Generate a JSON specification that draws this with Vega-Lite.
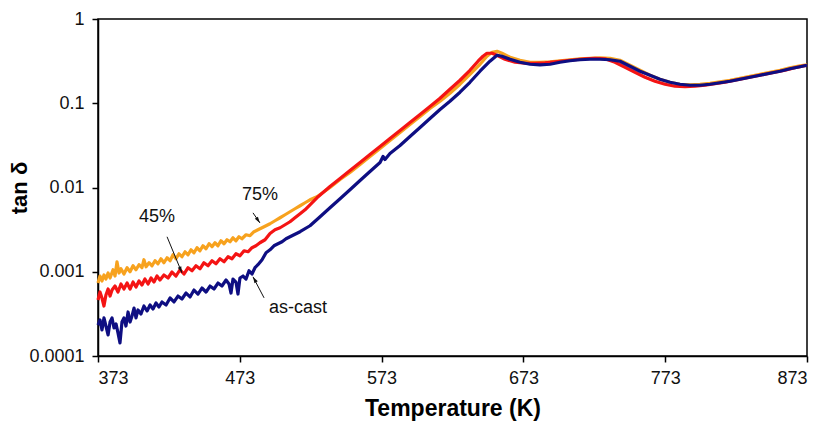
{
  "$schema": "https://vega.github.io/schema/vega-lite/v6.json",
  "width": 709,
  "height": 337,
  "autosize": "none",
  "padding": {"left": 98, "top": 19, "right": 20, "bottom": 76},
  "background": "white",
  "config": {
    "font": "Liberation Sans",
    "view": {"stroke": "#000000", "strokeWidth": 1.5},
    "axis": {
      "grid": false,
      "domainColor": "#000000",
      "domainWidth": 1.5,
      "tickColor": "#000000",
      "tickWidth": 1.5,
      "tickSize": 6,
      "labelFont": "Liberation Sans",
      "labelFontSize": 18,
      "labelColor": "#111111",
      "titleFont": "Liberation Sans",
      "titleColor": "#000000"
    }
  },
  "datasets": {
    "curves": [
      {"s":"as-cast","T":373,"v":0.000233},{"s":"as-cast","T":374.4,"v":0.000268},{"s":"as-cast","T":375.8,"v":0.000204},{"s":"as-cast","T":377.2,"v":0.000283},{"s":"as-cast","T":378.6,"v":0.000227},{"s":"as-cast","T":380.1,"v":0.000178},{"s":"as-cast","T":381.5,"v":0.000253},{"s":"as-cast","T":382.9,"v":0.000283},{"s":"as-cast","T":384.3,"v":0.000215},{"s":"as-cast","T":385.7,"v":0.00024},{"s":"as-cast","T":387.1,"v":0.000188},{"s":"as-cast","T":388.5,"v":0.000143},{"s":"as-cast","T":389.9,"v":0.000253},{"s":"as-cast","T":391.3,"v":0.000283},{"s":"as-cast","T":392.7,"v":0.000227},{"s":"as-cast","T":394.2,"v":0.000333},{"s":"as-cast","T":395.6,"v":0.000253},{"s":"as-cast","T":397.0,"v":0.000299},{"s":"as-cast","T":398.4,"v":0.000371},{"s":"as-cast","T":399.8,"v":0.000283},{"s":"as-cast","T":401.2,"v":0.000352},{"s":"as-cast","T":403.3,"v":0.000315},{"s":"as-cast","T":405.4,"v":0.000392},{"s":"as-cast","T":407.6,"v":0.000342},{"s":"as-cast","T":409.7,"v":0.000403},{"s":"as-cast","T":411.8,"v":0.000361},{"s":"as-cast","T":413.9,"v":0.000426},{"s":"as-cast","T":416.0,"v":0.000382},{"s":"as-cast","T":418.1,"v":0.000438},{"s":"as-cast","T":421.0,"v":0.000403},{"s":"as-cast","T":423.8,"v":0.000488},{"s":"as-cast","T":426.6,"v":0.000438},{"s":"as-cast","T":429.4,"v":0.000515},{"s":"as-cast","T":432.2,"v":0.000475},{"s":"as-cast","T":435.1,"v":0.000559},{"s":"as-cast","T":437.9,"v":0.000502},{"s":"as-cast","T":440.7,"v":0.000607},{"s":"as-cast","T":443.5,"v":0.000544},{"s":"as-cast","T":446.3,"v":0.000641},{"s":"as-cast","T":449.2,"v":0.000575},{"s":"as-cast","T":452.0,"v":0.000677},{"s":"as-cast","T":454.8,"v":0.000624},{"s":"as-cast","T":457.6,"v":0.000735},{"s":"as-cast","T":460.4,"v":0.000677},{"s":"as-cast","T":463.3,"v":0.000798},{"s":"as-cast","T":465.4,"v":0.000715},{"s":"as-cast","T":466.8,"v":0.000559},{"s":"as-cast","T":468.2,"v":0.00082},{"s":"as-cast","T":470.3,"v":0.000755},{"s":"as-cast","T":471.7,"v":0.000544},{"s":"as-cast","T":473.1,"v":0.000843},{"s":"as-cast","T":475.3,"v":0.00089},{"s":"as-cast","T":477.4,"v":0.00082},{"s":"as-cast","T":479.5,"v":0.001028},{"s":"as-cast","T":481.6,"v":0.00094},{"s":"as-cast","T":483.7,"v":0.001116},{"s":"as-cast","T":485.8,"v":0.001211},{"s":"as-cast","T":488.7,"v":0.001388},{"s":"as-cast","T":491.5,"v":0.001681},{"s":"as-cast","T":494.3,"v":0.001824},{"s":"as-cast","T":497.1,"v":0.002035},{"s":"as-cast","T":499.9,"v":0.00215},{"s":"as-cast","T":502.8,"v":0.00227},{"s":"as-cast","T":505.6,"v":0.002464},{"s":"as-cast","T":509.8,"v":0.002675},{"s":"as-cast","T":515.5,"v":0.002985},{"s":"as-cast","T":522.5,"v":0.003516},{"s":"as-cast","T":529.6,"v":0.004496},{"s":"as-cast","T":536.6,"v":0.005749},{"s":"as-cast","T":543.7,"v":0.007351},{"s":"as-cast","T":550.7,"v":0.009402},{"s":"as-cast","T":557.8,"v":0.01211},{"s":"as-cast","T":564.8,"v":0.01548},{"s":"as-cast","T":571.9,"v":0.01981},{"s":"as-cast","T":574.0,"v":0.02333},{"s":"as-cast","T":575.4,"v":0.0215},{"s":"as-cast","T":578.9,"v":0.02532},{"s":"as-cast","T":586.0,"v":0.03152},{"s":"as-cast","T":593.0,"v":0.04031},{"s":"as-cast","T":600.1,"v":0.05154},{"s":"as-cast","T":607.1,"v":0.06591},{"s":"as-cast","T":614.2,"v":0.08428},{"s":"as-cast","T":621.2,"v":0.1056},{"s":"as-cast","T":628.3,"v":0.1351},{"s":"as-cast","T":635.3,"v":0.1775},{"s":"as-cast","T":642.4,"v":0.2398},{"s":"as-cast","T":649.4,"v":0.3152},{"s":"as-cast","T":654.4,"v":0.3713},{"s":"as-cast","T":657.9,"v":0.3613},{"s":"as-cast","T":663.6,"v":0.3329},{"s":"as-cast","T":670.6,"v":0.3067},{"s":"as-cast","T":677.7,"v":0.2903},{"s":"as-cast","T":684.7,"v":0.286},{"s":"as-cast","T":691.8,"v":0.2903},{"s":"as-cast","T":698.8,"v":0.3067},{"s":"as-cast","T":705.9,"v":0.3195},{"s":"as-cast","T":712.9,"v":0.3284},{"s":"as-cast","T":720.0,"v":0.3329},{"s":"as-cast","T":727.0,"v":0.3329},{"s":"as-cast","T":734.1,"v":0.3284},{"s":"as-cast","T":741.1,"v":0.3152},{"s":"as-cast","T":748.2,"v":0.2749},{"s":"as-cast","T":755.2,"v":0.2398},{"s":"as-cast","T":762.3,"v":0.215},{"s":"as-cast","T":769.3,"v":0.1927},{"s":"as-cast","T":776.4,"v":0.1775},{"s":"as-cast","T":783.4,"v":0.1681},{"s":"as-cast","T":790.5,"v":0.1635},{"s":"as-cast","T":797.5,"v":0.1635},{"s":"as-cast","T":804.6,"v":0.1681},{"s":"as-cast","T":811.7,"v":0.1751},{"s":"as-cast","T":818.7,"v":0.1824},{"s":"as-cast","T":825.8,"v":0.1927},{"s":"as-cast","T":832.8,"v":0.2035},{"s":"as-cast","T":839.9,"v":0.215},{"s":"as-cast","T":846.9,"v":0.227},{"s":"as-cast","T":854.0,"v":0.2398},{"s":"as-cast","T":861.0,"v":0.2567},{"s":"as-cast","T":868.1,"v":0.2712},{"s":"as-cast","T":873,"v":0.2825},

      {"s":"45%","T":373,"v":0.000462},{"s":"45%","T":374.4,"v":0.000575},{"s":"45%","T":375.8,"v":0.000488},{"s":"45%","T":377.2,"v":0.000392},{"s":"45%","T":378.6,"v":0.00053},{"s":"45%","T":380.1,"v":0.000624},{"s":"45%","T":381.5,"v":0.000515},{"s":"45%","T":382.9,"v":0.000607},{"s":"45%","T":385.0,"v":0.000677},{"s":"45%","T":387.1,"v":0.000575},{"s":"45%","T":389.2,"v":0.000715},{"s":"45%","T":391.3,"v":0.000624},{"s":"45%","T":393.5,"v":0.000735},{"s":"45%","T":395.6,"v":0.000624},{"s":"45%","T":397.7,"v":0.000755},{"s":"45%","T":399.8,"v":0.000659},{"s":"45%","T":401.9,"v":0.000777},{"s":"45%","T":404.0,"v":0.000696},{"s":"45%","T":406.1,"v":0.00082},{"s":"45%","T":408.3,"v":0.000715},{"s":"45%","T":410.4,"v":0.000843},{"s":"45%","T":412.5,"v":0.000755},{"s":"45%","T":414.6,"v":0.00089},{"s":"45%","T":416.7,"v":0.000798},{"s":"45%","T":419.5,"v":0.000915},{"s":"45%","T":422.4,"v":0.000843},{"s":"45%","T":425.2,"v":0.000993},{"s":"45%","T":428.0,"v":0.00089},{"s":"45%","T":430.8,"v":0.001056},{"s":"45%","T":433.6,"v":0.00094},{"s":"45%","T":436.5,"v":0.001116},{"s":"45%","T":439.3,"v":0.001028},{"s":"45%","T":442.1,"v":0.001178},{"s":"45%","T":444.9,"v":0.001085},{"s":"45%","T":447.7,"v":0.001279},{"s":"45%","T":450.6,"v":0.001178},{"s":"45%","T":453.4,"v":0.001351},{"s":"45%","T":456.2,"v":0.001244},{"s":"45%","T":459.0,"v":0.001426},{"s":"45%","T":461.9,"v":0.001314},{"s":"45%","T":464.7,"v":0.001507},{"s":"45%","T":467.5,"v":0.001426},{"s":"45%","T":470.3,"v":0.001635},{"s":"45%","T":473.1,"v":0.001548},{"s":"45%","T":476.0,"v":0.001775},{"s":"45%","T":478.8,"v":0.001727},{"s":"45%","T":481.6,"v":0.001927},{"s":"45%","T":484.4,"v":0.002035},{"s":"45%","T":487.2,"v":0.002209},{"s":"45%","T":490.8,"v":0.002398},{"s":"45%","T":494.3,"v":0.00285},{"s":"45%","T":497.8,"v":0.003152},{"s":"45%","T":501.4,"v":0.003329},{"s":"45%","T":504.9,"v":0.003613},{"s":"45%","T":508.4,"v":0.003922},{"s":"45%","T":511.9,"v":0.004375},{"s":"45%","T":515.5,"v":0.00488},{"s":"45%","T":519.0,"v":0.005443},{"s":"45%","T":522.5,"v":0.00624},{"s":"45%","T":527.4,"v":0.007554},{"s":"45%","T":536.6,"v":0.01028},{"s":"45%","T":543.7,"v":0.01279},{"s":"45%","T":550.7,"v":0.01591},{"s":"45%","T":557.8,"v":0.01981},{"s":"45%","T":564.8,"v":0.02464},{"s":"45%","T":571.9,"v":0.03067},{"s":"45%","T":578.9,"v":0.03816},{"s":"45%","T":586.0,"v":0.04748},{"s":"45%","T":593.0,"v":0.05909},{"s":"45%","T":600.1,"v":0.07351},{"s":"45%","T":607.1,"v":0.09148},{"s":"45%","T":614.2,"v":0.1146},{"s":"45%","T":621.2,"v":0.1466},{"s":"45%","T":628.3,"v":0.1875},{"s":"45%","T":635.3,"v":0.2464},{"s":"45%","T":641.0,"v":0.3152},{"s":"45%","T":644.5,"v":0.3613},{"s":"45%","T":647.3,"v":0.3922},{"s":"45%","T":650.9,"v":0.3922},{"s":"45%","T":654.4,"v":0.3713},{"s":"45%","T":660.0,"v":0.3329},{"s":"45%","T":667.1,"v":0.3067},{"s":"45%","T":674.1,"v":0.2985},{"s":"45%","T":681.2,"v":0.2985},{"s":"45%","T":688.2,"v":0.3026},{"s":"45%","T":695.3,"v":0.311},{"s":"45%","T":702.3,"v":0.3195},{"s":"45%","T":709.4,"v":0.3284},{"s":"45%","T":716.4,"v":0.3375},{"s":"45%","T":723.5,"v":0.3421},{"s":"45%","T":730.5,"v":0.3375},{"s":"45%","T":737.6,"v":0.3067},{"s":"45%","T":744.7,"v":0.2675},{"s":"45%","T":751.7,"v":0.2333},{"s":"45%","T":758.8,"v":0.2035},{"s":"45%","T":765.8,"v":0.1824},{"s":"45%","T":772.9,"v":0.1681},{"s":"45%","T":779.9,"v":0.1591},{"s":"45%","T":787.0,"v":0.157},{"s":"45%","T":794.0,"v":0.1591},{"s":"45%","T":801.1,"v":0.1635},{"s":"45%","T":808.1,"v":0.1704},{"s":"45%","T":815.2,"v":0.1775},{"s":"45%","T":822.2,"v":0.1875},{"s":"45%","T":829.3,"v":0.1981},{"s":"45%","T":836.3,"v":0.2092},{"s":"45%","T":843.4,"v":0.2209},{"s":"45%","T":850.4,"v":0.2333},{"s":"45%","T":857.5,"v":0.2464},{"s":"45%","T":864.5,"v":0.2639},{"s":"45%","T":873,"v":0.2825},

      {"s":"75%","T":373,"v":0.000735},{"s":"75%","T":374.4,"v":0.00089},{"s":"75%","T":375.8,"v":0.000777},{"s":"75%","T":377.2,"v":0.000915},{"s":"75%","T":378.6,"v":0.00082},{"s":"75%","T":380.1,"v":0.000966},{"s":"75%","T":381.5,"v":0.000843},{"s":"75%","T":383.6,"v":0.001056},{"s":"75%","T":385.0,"v":0.00089},{"s":"75%","T":386.4,"v":0.001314},{"s":"75%","T":387.8,"v":0.000966},{"s":"75%","T":389.2,"v":0.001085},{"s":"75%","T":391.3,"v":0.00094},{"s":"75%","T":393.5,"v":0.001116},{"s":"75%","T":395.6,"v":0.001},{"s":"75%","T":397.7,"v":0.001178},{"s":"75%","T":399.8,"v":0.001056},{"s":"75%","T":401.9,"v":0.001211},{"s":"75%","T":404.0,"v":0.001116},{"s":"75%","T":405.4,"v":0.001388},{"s":"75%","T":406.9,"v":0.001146},{"s":"75%","T":409.0,"v":0.001279},{"s":"75%","T":411.1,"v":0.001178},{"s":"75%","T":413.2,"v":0.001351},{"s":"75%","T":415.3,"v":0.001244},{"s":"75%","T":417.4,"v":0.001426},{"s":"75%","T":419.5,"v":0.001279},{"s":"75%","T":421.7,"v":0.001466},{"s":"75%","T":423.8,"v":0.001351},{"s":"75%","T":425.9,"v":0.001591},{"s":"75%","T":428.0,"v":0.001426},{"s":"75%","T":430.1,"v":0.001635},{"s":"75%","T":432.2,"v":0.001507},{"s":"75%","T":434.4,"v":0.001727},{"s":"75%","T":436.5,"v":0.001591},{"s":"75%","T":438.6,"v":0.001824},{"s":"75%","T":440.7,"v":0.001681},{"s":"75%","T":442.8,"v":0.001927},{"s":"75%","T":444.9,"v":0.001775},{"s":"75%","T":447.0,"v":0.002035},{"s":"75%","T":449.2,"v":0.001875},{"s":"75%","T":451.3,"v":0.00215},{"s":"75%","T":453.4,"v":0.001981},{"s":"75%","T":455.5,"v":0.002209},{"s":"75%","T":457.6,"v":0.002035},{"s":"75%","T":459.7,"v":0.002333},{"s":"75%","T":461.9,"v":0.00215},{"s":"75%","T":464.0,"v":0.002398},{"s":"75%","T":466.1,"v":0.00227},{"s":"75%","T":468.2,"v":0.002532},{"s":"75%","T":470.3,"v":0.002333},{"s":"75%","T":472.4,"v":0.002603},{"s":"75%","T":474.5,"v":0.002464},{"s":"75%","T":477.4,"v":0.002749},{"s":"75%","T":480.2,"v":0.002675},{"s":"75%","T":483.0,"v":0.002985},{"s":"75%","T":485.8,"v":0.003152},{"s":"75%","T":488.7,"v":0.003329},{"s":"75%","T":491.5,"v":0.003516},{"s":"75%","T":494.3,"v":0.003713},{"s":"75%","T":497.8,"v":0.004031},{"s":"75%","T":501.4,"v":0.004375},{"s":"75%","T":504.9,"v":0.004748},{"s":"75%","T":508.4,"v":0.005154},{"s":"75%","T":511.9,"v":0.005594},{"s":"75%","T":515.5,"v":0.006072},{"s":"75%","T":519.0,"v":0.006591},{"s":"75%","T":522.5,"v":0.007153},{"s":"75%","T":527.4,"v":0.007765},{"s":"75%","T":536.6,"v":0.01},{"s":"75%","T":543.7,"v":0.01244},{"s":"75%","T":550.7,"v":0.01507},{"s":"75%","T":557.8,"v":0.01875},{"s":"75%","T":564.8,"v":0.02333},{"s":"75%","T":571.9,"v":0.02903},{"s":"75%","T":578.9,"v":0.03613},{"s":"75%","T":586.0,"v":0.04496},{"s":"75%","T":593.0,"v":0.05594},{"s":"75%","T":600.1,"v":0.0696},{"s":"75%","T":607.1,"v":0.08661},{"s":"75%","T":614.2,"v":0.1056},{"s":"75%","T":621.2,"v":0.1314},{"s":"75%","T":628.3,"v":0.1681},{"s":"75%","T":635.3,"v":0.2209},{"s":"75%","T":642.4,"v":0.2903},{"s":"75%","T":647.3,"v":0.3613},{"s":"75%","T":650.9,"v":0.4031},{"s":"75%","T":654.4,"v":0.4142},{"s":"75%","T":657.9,"v":0.3922},{"s":"75%","T":663.6,"v":0.3516},{"s":"75%","T":670.6,"v":0.3239},{"s":"75%","T":677.7,"v":0.3067},{"s":"75%","T":684.7,"v":0.3067},{"s":"75%","T":691.8,"v":0.311},{"s":"75%","T":698.8,"v":0.3195},{"s":"75%","T":705.9,"v":0.3284},{"s":"75%","T":712.9,"v":0.3375},{"s":"75%","T":720.0,"v":0.3421},{"s":"75%","T":727.0,"v":0.3468},{"s":"75%","T":734.1,"v":0.3421},{"s":"75%","T":741.1,"v":0.3239},{"s":"75%","T":748.2,"v":0.2825},{"s":"75%","T":755.2,"v":0.2464},{"s":"75%","T":762.3,"v":0.215},{"s":"75%","T":769.3,"v":0.1927},{"s":"75%","T":776.4,"v":0.1775},{"s":"75%","T":783.4,"v":0.1681},{"s":"75%","T":790.5,"v":0.1658},{"s":"75%","T":797.5,"v":0.1681},{"s":"75%","T":804.6,"v":0.1727},{"s":"75%","T":811.7,"v":0.18},{"s":"75%","T":818.7,"v":0.1875},{"s":"75%","T":825.8,"v":0.1981},{"s":"75%","T":832.8,"v":0.2092},{"s":"75%","T":839.9,"v":0.2209},{"s":"75%","T":846.9,"v":0.2333},{"s":"75%","T":854.0,"v":0.2464},{"s":"75%","T":861.0,"v":0.2639},{"s":"75%","T":868.1,"v":0.2787},{"s":"75%","T":873,"v":0.286}
    ],
    "arrows": [
      {"id":"a45","T":421.7,"v":0.0026,"T2":432.2,"v2":0.00097},
      {"id":"a75","T":482.3,"v":0.005,"T2":487.2,"v2":0.0038},
      {"id":"acast","T":490.1,"v":0.00049,"T2":482.3,"v2":0.00087}
    ],
    "labels": [
      {"T":414.6,"v":0.0045,"t":"45%"},
      {"T":487.2,"v":0.0082,"t":"75%"},
      {"T":514.0,"v":0.00037,"t":"as-cast"}
    ]
  },
  "encoding": {
    "x": {
      "field": "T", "type": "quantitative",
      "scale": {"domain": [373, 873], "nice": false, "zero": false},
      "axis": {
        "values": [373, 473, 573, 673, 773, 873],
        "format": "d",
        "labelPadding": 7,
        "title": "Temperature (K)",
        "titleFontSize": 23,
        "titleFontWeight": "bold",
        "titlePadding": 10
      }
    },
    "y": {
      "field": "v", "type": "quantitative",
      "scale": {"type": "log", "domain": [0.0001, 1], "nice": false},
      "axis": {
        "values": [0.0001, 0.001, 0.01, 0.1, 1],
        "format": "~g",
        "labelPadding": 8,
        "title": "tan δ",
        "titleFontSize": 22,
        "titleFontWeight": "bold",
        "titleX": -67,
        "titleBaseline": "bottom"
      }
    }
  },
  "layer": [
    {
      "data": {"name": "curves"},
      "transform": [{"filter": "datum.s === '75%'"}],
      "mark": {"type": "line", "color": "#F7A21E", "strokeWidth": 3.2, "strokeJoin": "round"}
    },
    {
      "data": {"name": "curves"},
      "transform": [{"filter": "datum.s === '45%'"}],
      "mark": {"type": "line", "color": "#F41414", "strokeWidth": 3.2, "strokeJoin": "round"}
    },
    {
      "data": {"name": "curves"},
      "transform": [{"filter": "datum.s === 'as-cast'"}],
      "mark": {"type": "line", "color": "#0E0E82", "strokeWidth": 3.2, "strokeJoin": "round"}
    },
    {
      "data": {"name": "arrows"},
      "mark": {"type": "rule", "color": "#111111", "strokeWidth": 1},
      "encoding": {"x2": {"field": "T2"}, "y2": {"field": "v2"}}
    },
    {
      "data": {"name": "arrows"},
      "transform": [{"filter": "datum.id === 'a45'"}],
      "mark": {"type": "point", "shape": "M0,0L0.45,1.5L-0.45,1.5Z", "filled": true, "color": "#111111", "opacity": 1, "size": 70, "angle": 157},
      "encoding": {"x": {"field": "T2", "type": "quantitative"}, "y": {"field": "v2", "type": "quantitative"}}
    },
    {
      "data": {"name": "arrows"},
      "transform": [{"filter": "datum.id === 'a75'"}],
      "mark": {"type": "point", "shape": "M0,0L0.45,1.5L-0.45,1.5Z", "filled": true, "color": "#111111", "opacity": 1, "size": 70, "angle": 145},
      "encoding": {"x": {"field": "T2", "type": "quantitative"}, "y": {"field": "v2", "type": "quantitative"}}
    },
    {
      "data": {"name": "arrows"},
      "transform": [{"filter": "datum.id === 'acast'"}],
      "mark": {"type": "point", "shape": "M0,0L0.45,1.5L-0.45,1.5Z", "filled": true, "color": "#111111", "opacity": 1, "size": 70, "angle": 330},
      "encoding": {"x": {"field": "T2", "type": "quantitative"}, "y": {"field": "v2", "type": "quantitative"}}
    },
    {
      "data": {"name": "labels"},
      "mark": {"type": "text", "font": "Liberation Sans", "fontSize": 18, "color": "#111111", "align": "center", "baseline": "middle"},
      "encoding": {"text": {"field": "t"}}
    }
  ]
}
